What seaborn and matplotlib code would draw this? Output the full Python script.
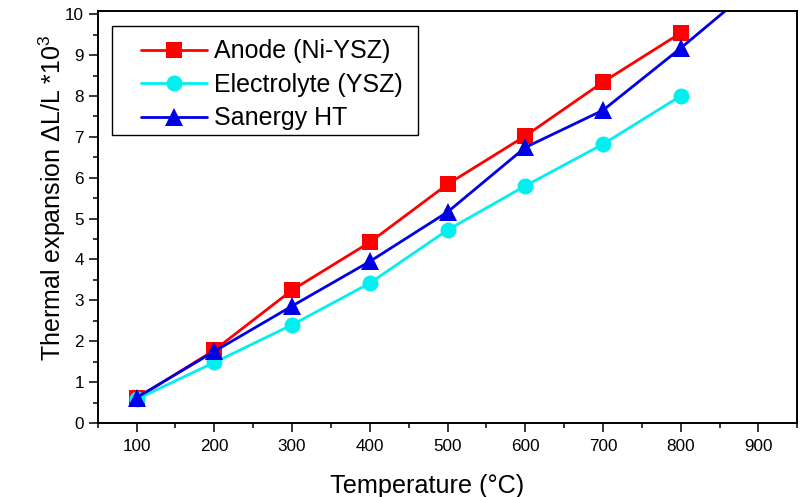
import matplotlib
matplotlib.use("Agg")
import matplotlib.pyplot as plt
import pandas as pd
import seaborn as sns
from matplotlib.ticker import MultipleLocator
from matplotlib.patches import Rectangle

# Thermal expansion (dL/L x 1e3) versus temperature
temperature = [100, 200, 300, 400, 500, 600, 700, 800, 900]
anode = [0.60, 1.78, 3.25, 4.42, 5.84, 7.02, 8.34, 9.54]
electrolyte = [0.58, 1.48, 2.40, 3.42, 4.72, 5.80, 6.82, 8.00]
sanergy = [0.62, 1.75, 2.86, 3.95, 5.16, 6.74, 7.65, 9.17, 10.76]

series_names = ["Anode (Ni-YSZ)", "Electrolyte (YSZ)", "Sanergy HT"]
series_values = [anode, electrolyte, sanergy]
series_colors = ["#FF0000", "#00F0F0", "#0000E6"]
series_markers = ["s", "o", "^"]
marker_sizes = [11, 11.5, 13]

sns.set_theme(style="ticks")
plt.rcParams["font.family"] = ["Liberation Sans", "DejaVu Sans"]
plt.rcParams["mathtext.fontset"] = "custom"
plt.rcParams["mathtext.rm"] = "Liberation Sans"
plt.rcParams["mathtext.it"] = "Liberation Sans"

fig = plt.figure(figsize=(8.01, 4.97), dpi=100)
ax = fig.add_axes([0.122, 0.149, 0.8734, 0.829])

for name, vals, col, mk, ms in zip(series_names, series_values,
                                   series_colors, series_markers, marker_sizes):
    df = pd.DataFrame({"T": temperature[:len(vals)], "dL": vals})
    sns.lineplot(data=df, x="T", y="dL", ax=ax, color=col, marker=mk,
                 markersize=ms, markeredgewidth=0, linewidth=2.0,
                 label=name, sort=False)

ax.set_xlim(50, 950)
ax.set_ylim(0, 10.08)
ax.xaxis.set_major_locator(MultipleLocator(100))
ax.xaxis.set_minor_locator(MultipleLocator(50))
ax.yaxis.set_major_locator(MultipleLocator(1))
ax.yaxis.set_minor_locator(MultipleLocator(0.5))
ax.set_xticks(range(100, 1000, 100))
ax.set_yticks(range(0, 11))

ax.tick_params(which="major", direction="out", length=6.5, width=1.1,
               labelsize=12.3, color="black", labelcolor="black")
ax.tick_params(axis="x", which="major", pad=5)
ax.tick_params(axis="y", which="major", pad=3.5)
ax.tick_params(which="minor", direction="out", length=3.6, width=1.1,
               color="black")
for sp in ax.spines.values():
    sp.set_visible(True)
    sp.set_linewidth(1.4)
    sp.set_color("black")

ax.set_xlabel("Temperature (°C)", fontsize=18.2, color="black")
ax.set_ylabel(r"Thermal expansion ΔL/L *10$^{3}$", fontsize=18, color="black")
ax.xaxis.set_label_coords(0.471, -0.123)
ax.yaxis.set_label_coords(-0.043, 0.547)

leg = ax.legend(loc="upper left", bbox_to_anchor=(0.062, 0.931),
                frameon=False, fontsize=18, handlelength=2.64,
                handletextpad=0.28, labelspacing=0.38, borderpad=0,
                borderaxespad=0)
for txt in leg.get_texts():
    txt.set_color("black")

ax.add_patch(Rectangle((0.0204, 0.6990), 0.4374, 0.2646,
                       transform=ax.transAxes, fill=False,
                       edgecolor="black", linewidth=1.0, zorder=5))

fig.savefig("out.png", dpi=100, facecolor="white")
